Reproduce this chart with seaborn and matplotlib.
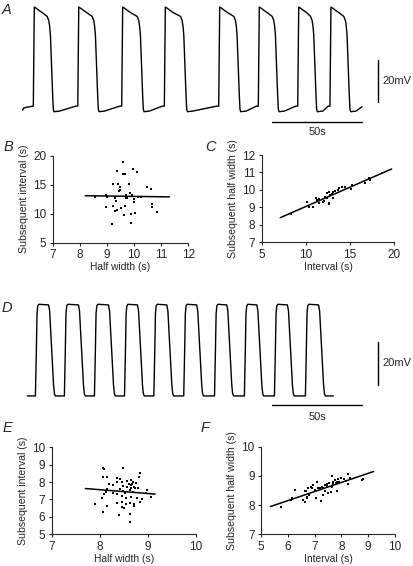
import matplotlib
matplotlib.use("Agg")
import matplotlib.pyplot as plt
import numpy as np
import seaborn as sns

sns.set_style("ticks")
plt.rcParams["font.family"] = ["Liberation Sans", "DejaVu Sans"]

# ── Data ──────────────────────────────────────────────────────────────

# A: long-plateau spikes (s) and levels (mV, relative to rest)
a_onsets = [5.9, 30.6, 55.0, 78.7, 108.9, 130.9, 152.8, 170.7]
a_falls = [16.1, 41.1, 66.1, 90.2, 119.8, 141.1, 162.4, 180.9]
a_trace_end = 188.5
a_peak, a_plateau, a_shoulder = 49.5, 45.0, 40.0
a_undershoot, a_prespike = -0.8, 1.9

# D: square-ish spikes
d_onsets = [4.8, 20.9, 37.6, 54.3, 70.6, 87.2, 104.3, 120.9, 137.6, 154.8]
d_falls = [13.6, 30.2, 46.9, 63.0, 79.3, 95.9, 112.6, 129.3, 146.3, 163.6]
d_trace_end = 170.0
d_top = 42.3

scale_time_s = 50
scale_mv = 20

# B: half width vs subsequent interval
b_half = [9.58, 9.36, 9.97, 10.12, 9.58, 9.66, 9.23, 9.41, 9.82, 9.48, 9.50,
          9.46, 10.49, 10.61, 8.56, 8.96, 8.99, 9.30, 9.33, 9.85, 9.91, 9.70,
          9.75, 10.00, 10.16, 10.24, 10.00, 8.96, 9.21, 9.51, 9.67, 9.36,
          10.65, 10.65, 10.86, 9.63, 9.87, 10.03, 9.17, 9.90, 9.30, 9.72]
b_next_int = [18.9, 17.4, 17.7, 17.2, 16.8, 16.8, 15.2, 15.2, 15.2, 14.6, 14.1,
              13.9, 14.6, 14.3, 12.8, 13.2, 12.9, 12.7, 12.2, 13.5, 13.2, 12.7,
              12.7, 12.5, 12.8, 12.8, 12.1, 11.2, 11.3, 10.9, 11.3, 10.6,
              11.6, 11.2, 10.3, 9.7, 10.0, 10.1, 8.2, 8.35, 10.4, 13.3]
b_fit_x = [8.2, 11.3]
b_fit_y = [13.1, 12.9]

# C: interval vs subsequent half width
c_int = [8.28, 10.16, 10.38, 10.77, 11.14, 11.2, 11.52, 11.97, 12.03, 12.35,
         12.42, 12.65, 12.7, 12.6, 12.9, 13.1, 13.1, 13.34, 13.72, 14.1, 13.6,
         15.2, 15.1, 16.7, 17.1, 17.2, 12.65, 18.6, 11.52, 12.2, 14.4]
c_next_half = [8.6, 9.29, 9.04, 9.04, 9.55, 9.42, 9.48, 9.33, 9.36, 9.52,
               9.81, 9.9, 9.71, 9.23, 9.75, 9.86, 9.55, 9.94, 10.09, 10.18, 10.0,
               10.28, 10.05, 10.38, 10.67, 10.57, 9.17, 10.95, 9.23, 9.62, 10.15]
c_fit_x = [7.1, 19.7]
c_fit_y = [8.41, 11.2]

# E: half width vs subsequent interval
e_half = [8.06, 8.08, 8.49, 8.84, 8.81, 8.07, 8.16, 8.36, 8.42, 8.20, 8.28,
          8.36, 8.46, 8.57, 8.64, 8.70, 8.60, 8.66, 8.49, 8.57, 8.64, 8.71,
          8.74, 8.79, 8.63, 8.49, 8.42, 8.16, 8.13, 8.08, 8.04, 8.28, 8.35,
          8.46, 8.55, 8.64, 8.78, 8.84, 8.88, 8.96, 9.07, 7.90, 8.16, 8.36,
          8.47, 8.55, 8.63, 8.71, 8.46, 8.50, 8.72, 8.06, 8.40, 8.63, 8.63,
          8.64, 8.98, 8.75, 8.70, 8.52]
e_next_int = [8.83, 8.75, 8.79, 8.50, 8.31, 8.31, 8.31, 8.25, 8.20, 7.87, 7.83,
              8.02, 8.02, 8.06, 8.10, 8.02, 7.87, 7.87, 7.80, 7.74, 7.68, 7.74,
              7.64, 7.64, 7.55, 7.50, 7.60, 7.60, 7.41, 7.30, 7.10, 7.35, 7.30,
              7.22, 7.10, 7.15, 7.06, 6.88, 7.00, 7.35, 7.15, 6.72, 6.64, 6.79,
              6.84, 6.72, 6.79, 6.72, 6.58, 6.53, 6.64, 6.30, 6.11, 6.14, 5.72,
              7.83, 7.55, 7.95, 7.45, 7.40]
e_fit_x = [7.7, 9.15]
e_fit_y = [7.63, 7.31]

# F: interval vs subsequent half width
f_int = [5.74, 6.11, 6.15, 6.27, 6.56, 6.64, 6.71, 6.73, 6.80, 6.68, 6.76,
         6.89, 6.64, 6.95, 7.08, 6.85, 7.05, 7.23, 7.14, 7.26, 7.32, 7.39,
         7.39, 7.47, 7.55, 7.64, 7.64, 7.70, 7.76, 7.80, 7.88, 7.92, 7.97,
         7.82, 7.60, 7.51, 7.32, 8.26, 8.26, 8.32, 8.76, 8.79, 8.17, 8.10,
         7.45, 7.70, 7.85, 7.00, 7.20]
f_next_half = [7.95, 8.17, 8.23, 8.52, 8.17, 8.11, 8.23, 8.29, 8.33, 8.48, 8.57,
               8.59, 8.50, 8.69, 8.80, 8.63, 8.23, 8.14, 8.57, 8.63, 8.57, 8.50,
               8.69, 8.71, 8.75, 9.00, 8.63, 8.80, 8.86, 8.75, 8.90, 8.80, 8.94,
               8.50, 8.44, 8.40, 8.36, 9.06, 8.71, 8.92, 8.86, 8.90, 8.82, 8.90,
               8.65, 8.72, 8.78, 8.52, 8.60]
f_fit_x = [5.35, 9.2]
f_fit_y = [7.95, 9.15]

_NARROW = ["Liberation Sans Narrow", "Liberation Sans", "DejaVu Sans"]


# ── Helpers ───────────────────────────────────────────────────────────

def _trace_a():
    t, v = [0.0, 0.6, 2.0], [0.0, 1.0, 1.3]
    prev_end = None
    for t0, tf in zip(a_onsets, a_falls):
        if prev_end is not None:
            t += [prev_end + 3.0, t0 - 1.0]
            v += [a_undershoot + 0.3, a_prespike]
        t += [t0, t0 + 0.2, t0 + 0.55, t0 + 1.5, t0 + 3.0, t0 + 5.0,
              tf - 2.5, tf - 1.6, tf - 1.1, tf - 0.7, tf + 0.5, tf + 0.9, tf + 1.3]
        v += [a_prespike, 20, a_peak, a_peak - 0.5, a_peak - 1.5, a_peak - 2.7,
              a_plateau, a_shoulder + 3, a_shoulder, a_shoulder - 4, 8, 0.5,
              a_undershoot]
        prev_end = tf + 1.3
    t += [prev_end + 3.0, a_trace_end]
    v += [a_undershoot + 0.3, a_prespike - 0.3]
    return t, v


def _trace_d():
    t, v = [0.0], [0.0]
    for t0, tf in zip(d_onsets, d_falls):
        t += [t0 - 0.3, t0 + 0.2, t0 + 0.6, t0 + 1.0, t0 + 1.6,
              tf - 1.8, tf - 1.2, tf + 1.0, tf + 1.5, tf + 2.0]
        v += [0.0, 20, 38, d_top - 0.8, d_top,
              d_top - 0.3, d_top - 3, 5, 1, 0.0]
    t += [d_trace_end]
    v += [0.0]
    return t, v


def _trace_panel(rect, t, v, xlim, ylim, bar_t, bar_v, bar_y_time, label_y):
    ax = fig.add_axes(rect)
    sns.lineplot(x=t, y=v, sort=False, estimator=None, color="black",
                 linewidth=1.0, ax=ax)
    # vertical mV bar
    ax.plot([bar_t, bar_t], [bar_v, bar_v + scale_mv], color="black", lw=1.0)
    ax.text(bar_t + 2.6, bar_v + scale_mv / 2, f"{scale_mv}mV",
            va="center", ha="left", fontsize=8)
    # horizontal time bar
    t_end = xlim[0] + (362 / 413) * (xlim[1] - xlim[0])
    ax.plot([t_end - scale_time_s, t_end], [bar_y_time, bar_y_time],
            color="black", lw=1.0)
    ax.text(t_end - scale_time_s / 2, label_y, f"{scale_time_s}s",
            ha="center", va="center", fontsize=8)
    ax.set_xlim(*xlim)
    ax.set_ylim(*ylim)
    ax.axis("off")
    return ax


def _scatter_panel(rect, x, y, fx, fy, xlim, ylim, xticks, yticks, xlabel, ylabel):
    ax = fig.add_axes(rect)
    sns.scatterplot(x=x, y=y, marker="s", s=3, color="black", linewidth=0, ax=ax)
    sns.lineplot(x=fx, y=fy, color="black", linewidth=1.1, ax=ax)
    ax.set_xlim(*xlim)
    ax.set_ylim(*ylim)
    ax.set_xticks(xticks)
    ax.set_yticks(yticks)
    ax.set_xlabel(xlabel, fontsize=7.4, labelpad=1)
    ax.set_ylabel(ylabel, fontsize=7.6, labelpad=3, family=_NARROW)
    ax.tick_params(direction="out", length=2.5, width=0.8, labelsize=8.5, pad=2)
    sns.despine(ax=ax)
    for sp in ("left", "bottom"):
        ax.spines[sp].set_linewidth(0.8)
    return ax


def _letter(x_px, y_px, s):
    fig.text(x_px / 413, 1 - y_px / 566, s, fontsize=10.5, style="italic",
             ha="center", va="center")


# ── Figure ────────────────────────────────────────────────────────────

fig = plt.figure(figsize=(4.13, 5.66), dpi=100, facecolor="white")

ta, va_ = _trace_a()
_trace_panel([0, 1 - 140 / 566, 1, 140 / 566], ta, va_,
             xlim=(-22.7 / 1.8, (413 - 22.7) / 1.8), ylim=(-14.4, 52.9),
             bar_t=197.4, bar_v=4.0, bar_y_time=-5.8, label_y=-10.6)

td, vd = _trace_d()
_trace_panel([0, 1 - 420 / 566, 1, 140 / 566], td, vd,
             xlim=(-27.3 / 1.8, (413 - 27.3) / 1.8), ylim=(-11.1, 53.5),
             bar_t=194.8, bar_v=5.1, bar_y_time=-4.3, label_y=-9.5)

_scatter_panel([52.7 / 413, 1 - 242.7 / 566, 135.6 / 413, 87 / 566],
               b_half, b_next_int, b_fit_x, b_fit_y, (7, 12), (5, 20),
               range(7, 13), [5, 10, 15, 20],
               "Half width (s)", "Subsequent interval (s)")
_scatter_panel([261.7 / 413, 1 - 242.3 / 566, 132.6 / 413, 87.3 / 566],
               c_int, c_next_half, c_fit_x, c_fit_y, (5, 20), (7, 12),
               [5, 10, 15, 20], range(7, 13),
               "Interval (s)", "Subsequent half width (s)")
_scatter_panel([51.7 / 413, 1 - 534.3 / 566, 144.3 / 413, 87 / 566],
               e_half, e_next_int, e_fit_x, e_fit_y, (7, 10), (5, 10),
               range(7, 11), range(5, 11),
               "Half width (s)", "Subsequent interval (s)")
_scatter_panel([261 / 413, 1 - 534.3 / 566, 134 / 413, 87.6 / 566],
               f_int, f_next_half, f_fit_x, f_fit_y, (5, 10), (7, 10),
               range(5, 11), range(7, 11),
               "Interval (s)", "Subsequent half width (s)")

for x_px, y_px, s in [(7, 10, "A"), (8, 147, "B"), (210, 147, "C"),
                      (7, 308, "D"), (7, 428, "E"), (205, 428, "F")]:
    _letter(x_px, y_px, s)

fig.savefig("out.png", dpi=100, facecolor="white")
